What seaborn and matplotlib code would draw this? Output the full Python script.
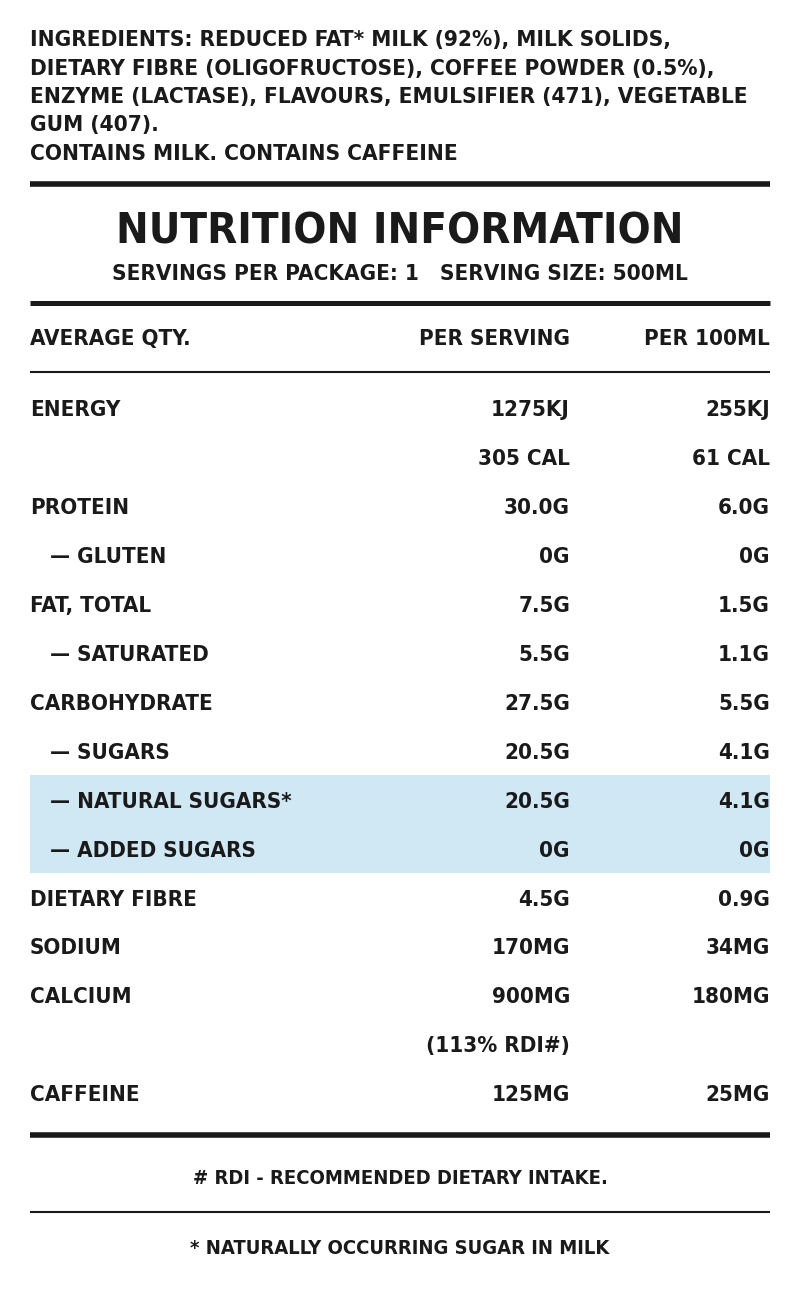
import matplotlib.pyplot as plt
import seaborn as sns

sns.set_theme(style="white")
plt.rcParams['font.family'] = ['DejaVu Sans']

ingredients = [
    "INGREDIENTS: REDUCED FAT* MILK (92%), MILK SOLIDS,",
    "DIETARY FIBRE (OLIGOFRUCTOSE), COFFEE POWDER (0.5%),",
    "ENZYME (LACTASE), FLAVOURS, EMULSIFIER (471), VEGETABLE",
    "GUM (407).",
    "CONTAINS MILK. CONTAINS CAFFEINE",
]
title = "NUTRITION INFORMATION"
subtitle = "SERVINGS PER PACKAGE: 1   SERVING SIZE: 500ML"
headers = ["AVERAGE QTY.", "PER SERVING", "PER 100ML"]

labels = ["ENERGY", "", "PROTEIN", "\u2014 GLUTEN", "FAT, TOTAL", "\u2014 SATURATED",
          "CARBOHYDRATE", "\u2014 SUGARS", "\u2014 NATURAL SUGARS*", "\u2014 ADDED SUGARS",
          "DIETARY FIBRE", "SODIUM", "CALCIUM", "", "CAFFEINE"]
per_serving = ["1275KJ", "305 CAL", "30.0G", "0G", "7.5G", "5.5G", "27.5G", "20.5G",
               "20.5G", "0G", "4.5G", "170MG", "900MG", "(113% RDI#)", "125MG"]
per_100ml = ["255KJ", "61 CAL", "6.0G", "0G", "1.5G", "1.1G", "5.5G", "4.1G",
             "4.1G", "0G", "0.9G", "34MG", "180MG", "", "25MG"]
highlight = [False] * 8 + [True, True] + [False] * 5

footnotes = ["# RDI - RECOMMENDED DIETARY INTAKE.", "* NATURALLY OCCURRING SUGAR IN MILK"]

ink = "#1a1a1a"
W, H = 800, 1304
fig = plt.figure(figsize=(8, 13.04), dpi=100)
ax = fig.add_axes([0, 0, 1, 1])
ax.set_xlim(0, W)
ax.set_ylim(H, 0)
ax.axis("off")

txt = dict(color=ink, fontweight="bold", fontstretch="condensed", va="baseline")
body = 16

# ingredients block
for i, line in enumerate(ingredients):
    ax.text(30, 46 + i * 28.5, line, fontsize=16.2, ha="left", **txt)

ax.plot([30, 770], [184, 184], color=ink, lw=4, solid_capstyle="butt")
ax.text(400, 243, title, fontsize=31.2, ha="center", **txt)
ax.text(400, 280, subtitle, fontsize=16.1, ha="center", **txt)
ax.plot([30, 770], [303, 303], color=ink, lw=3.6, solid_capstyle="butt")

ax.text(30, 345, headers[0], fontsize=body, ha="left", **txt)
ax.text(570, 345, headers[1], fontsize=body, ha="right", **txt)
ax.text(770, 345, headers[2], fontsize=body, ha="right", **txt)
ax.plot([30, 770], [372, 372], color=ink, lw=1.5, solid_capstyle="butt")

row0, step = 408, 48.9
for i, (lab, ps, p100, hl) in enumerate(zip(labels, per_serving, per_100ml, highlight)):
    yc = row0 + i * step
    if hl:
        ax.axhspan(yc - step / 2, yc + step / 2, xmin=30 / W, xmax=770 / W,
                   color="#d0e7f4", lw=0, zorder=0)
    x_lab = 50 if lab.startswith("\u2014") else 30
    ax.text(x_lab, yc + 8.5, lab, fontsize=body, ha="left", **txt)
    ax.text(570, yc + 8.5, ps, fontsize=body, ha="right", **txt)
    ax.text(770, yc + 8.5, p100, fontsize=body, ha="right", **txt)

ax.plot([30, 770], [1135, 1135], color=ink, lw=4, solid_capstyle="butt")
ax.text(400, 1184, footnotes[0], fontsize=14.5, ha="center", **txt)
ax.plot([30, 770], [1212, 1212], color=ink, lw=1.5, solid_capstyle="butt")
ax.text(400, 1254, footnotes[1], fontsize=14.5, ha="center", **txt)

fig.savefig("out.png", dpi=100, facecolor="white")
